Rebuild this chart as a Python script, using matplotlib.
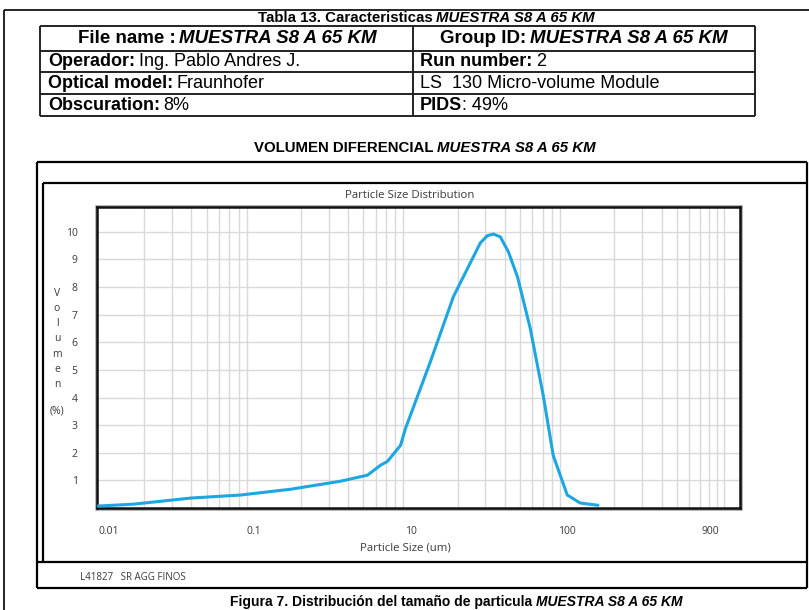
import numpy as np
import matplotlib
matplotlib.use("Agg")
import matplotlib.pyplot as plt
from matplotlib.ticker import FixedLocator, NullFormatter

# --- datos ---
size_um = [0.101, 0.172, 0.397, 0.826, 1.72, 3.58, 5.32, 6.44, 7.14, 8.64, 9.29,
           13.4, 18.8, 25.2, 27.9, 30.9, 33.8, 37.4, 42.1, 48.1, 58.1, 70.3, 81.4,
           100, 121, 157]
volumen = [0.07, 0.14, 0.36, 0.47, 0.68, 0.97, 1.19, 1.55, 1.69, 2.27, 2.88,
           5.3, 7.66, 9.1, 9.6, 9.86, 9.92, 9.82, 9.28, 8.38, 6.5, 4.07, 1.9,
           0.47, 0.18, 0.1]

xtick_labels = ["0.01", "0.1", "10", "100", "900"]
xtick_pos = [0.119, 1.0, 10, 100, 815]
ytick_vals = [1, 2, 3, 4, 5, 6, 7, 8, 9, 10]

muestra = "MUESTRA S8 A 65 KM"
tabla = [
    [("Operador:", "bold", "normal"), ("Ing. Pablo Andres J.", "normal", "normal")],
    [("Run number:", "bold", "normal"), ("2", "normal", "normal")],
    [("Optical model:", "bold", "normal"), ("Fraunhofer", "normal", "normal")],
    [("LS  130 Micro-volume Module", "normal", "normal")],
    [("Obscuration:", "bold", "normal"), ("8%", "normal", "normal")],
    [("PIDS", "bold", "normal"), (": 49%", "normal", "normal")],
]

arial = ["Liberation Sans"]
calibri = ["Open Sans", "DejaVu Sans"]
gris = "#3a3a3a"

W, H = 809, 610
fig = plt.figure(figsize=(W / 100, H / 100), dpi=100)
bg = fig.add_axes([0, 0, 1, 1])
bg.set_xlim(0, W)
bg.set_ylim(H, 0)
bg.axis("off")
renderer = fig.canvas.get_renderer()


def runs(x, y, parts, size, ha="left", gap=3.5, color="black"):
    """Texto con tramos en negrita / cursiva uno detras de otro"""
    objs = []
    for txt, wt, st in parts:
        t = bg.text(0, y, txt, fontsize=size, fontweight=wt, fontstyle=st,
                    family=arial, va="center", ha="left", color=color)
        objs.append(t)
    widths = [t.get_window_extent(renderer).width for t in objs]
    total = sum(widths) + gap * (len(objs) - 1)
    cur = x - total / 2 if ha == "center" else x
    for t, w in zip(objs, widths):
        t.set_x(cur)
        cur += w + gap


def hline(y, x0, x1, lw=1.5, c="black"):
    bg.plot([x0, x1], [y, y], color=c, lw=lw, solid_capstyle="butt")


def vline(x, y0, y1, lw=1.5, c="black"):
    bg.plot([x, x], [y0, y1], color=c, lw=lw, solid_capstyle="butt")


# marco de pagina
hline(10, 4, W, lw=1.2)
vline(4, 10, H, lw=1.2)

# tabla
runs(426, 17.5, [("Tabla 13. Caracteristicas", "bold", "normal"), (muestra, "bold", "italic")],
     10.8, ha="center")
for yy in [26, 51, 72, 94, 116]:
    hline(yy, 40, 755, lw=1.4, c="#222222")
for xx in [40, 413, 755]:
    vline(xx, 26, 116, lw=1.4, c="#222222")
runs(227, 38.5, [("File name :", "bold", "normal"), (muestra, "bold", "italic")], 13.5, ha="center")
runs(584, 38.5, [("Group ID:", "bold", "normal"), (muestra, "bold", "italic")], 13.5, ha="center")
row_y = [61.5, 83, 105]
runs(48, row_y[0], tabla[0], 13)
runs(420, row_y[0], tabla[1], 13)
runs(48, row_y[1], tabla[2], 13)
runs(420, row_y[1], tabla[3], 13)
runs(48, row_y[2], tabla[4], 13)
runs(420, row_y[2], tabla[5], 13, gap=0)

# titulo del grafico
runs(425, 148, [("VOLUMEN DIFERENCIAL", "bold", "normal"), (muestra, "bold", "italic")],
     10.8, ha="center")

# marcos del grafico
hline(162, 37, 807, lw=1.6)
vline(37, 162, 588, lw=1.6)
vline(807, 162, 588, lw=1.6)
hline(588, 37, 807, lw=1.6)
hline(183, 43, 807, lw=1.6)
vline(43, 183, 562, lw=1.6)
hline(562, 37, 807, lw=1.6)
bg.text(80, 577, "L41827   SR AGG FINOS", fontsize=7, family=calibri,
        va="center", ha="left", color=gris)

bg.text(410, 196, "Particle Size Distribution", fontsize=8.2, family=calibri,
        va="center", ha="center", color=gris)
bg.text(405, 548, "Particle Size (um)", fontsize=8.2, family=calibri,
        va="center", ha="center", color=gris)
for i, ch in enumerate("Volumen"):
    bg.text(57, 293 + i * 15.3, ch, fontsize=7.5, family=calibri,
            va="center", ha="center", color=gris)
bg.text(57, 411, "(%)", fontsize=7.5, family=calibri, va="center", ha="center", color=gris)

# sombra del area de trazado
bg.add_patch(plt.Rectangle((96, 206), 645, 303, fill=False, ec="#a0a0a0", lw=1.8))

# pie de figura
runs(456, 602, [("Figura 7. Distribución del tamaño de particula", "bold", "normal"),
                (muestra, "bold", "italic")], 10, ha="center")

# grafico
ax = fig.add_axes([97 / W, (H - 508) / H, (740 - 97) / W, (508 - 207) / H])
ax.plot(size_um, volumen, color="#1ea6e2", lw=2.2, solid_joinstyle="round",
        solid_capstyle="round", zorder=3)
ax.set_xscale("log")
ax.set_xlim(0.1, 1265)
ax.set_ylim(0, 10.9)

grid_x = [m * 10.0 ** d for d in range(-1, 4) for m in range(1, 10)]
ax.xaxis.set_minor_locator(FixedLocator(grid_x))
ax.xaxis.set_minor_formatter(NullFormatter())
ax.set_xticks(xtick_pos)
ax.set_xticklabels(xtick_labels)
ax.set_yticks(ytick_vals)
ax.grid(False)
ax.grid(True, which="minor", axis="x", color="#d9d9d9", lw=1)
ax.grid(True, which="major", axis="y", color="#d9d9d9", lw=1)
ax.tick_params(which="both", length=0)
ax.tick_params(axis="x", pad=13, labelsize=7.5, labelcolor=gris)
ax.tick_params(axis="y", pad=14, labelsize=7.5, labelcolor=gris)
for lab in ax.get_xticklabels() + ax.get_yticklabels():
    lab.set_family(calibri)
for sp in ax.spines.values():
    sp.set_linewidth(1.8)
    sp.set_color("#111111")

fig.savefig("out.png", dpi=100)
